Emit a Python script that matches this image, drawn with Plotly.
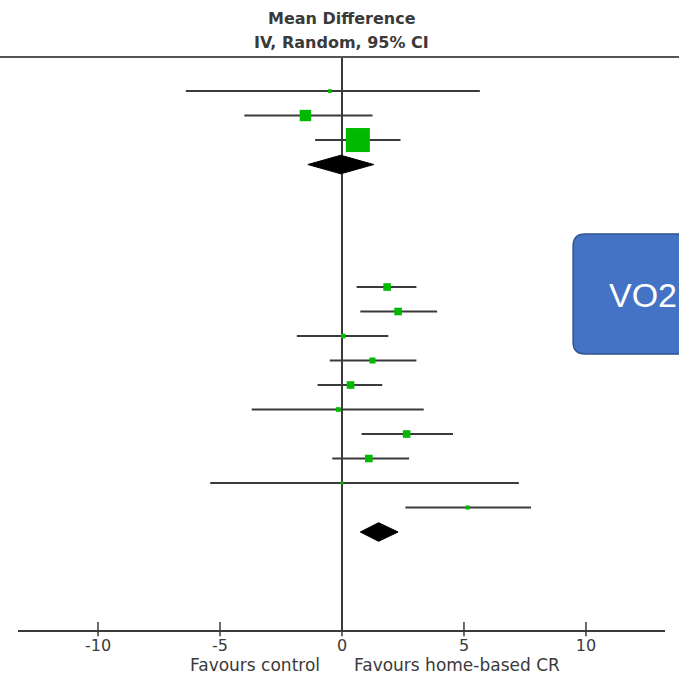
import plotly.graph_objects as go

# ---- data ----
# group 1 studies
g1_est = [-0.5, -1.5, 0.65]
g1_lo = [-6.4, -4.0, -1.1]
g1_hi = [5.65, 1.25, 2.4]
g1_w = [1.0, 9.0, 40.0]
g1_rows = [0, 1, 2]
g1_pool = (-0.05, -1.4, 1.3)   # est, lo, hi
g1_pool_row = 3

# group 2 studies
g2_est = [1.85, 2.3, 0.05, 1.25, 0.35, -0.15, 2.65, 1.1, 0.0, 5.15]
g2_lo = [0.6, 0.75, -1.85, -0.5, -1.0, -3.7, 0.8, -0.4, -5.4, 2.6]
g2_hi = [3.05, 3.9, 1.9, 3.05, 1.65, 3.35, 4.55, 2.75, 7.25, 7.75]
g2_w = [4.0, 4.0, 1.5, 2.5, 4.0, 1.5, 4.0, 4.0, 0.3, 1.2]
g2_rows = [8, 9, 10, 11, 12, 13, 14, 15, 16, 17]
g2_pool = (1.5, 0.75, 2.3)
g2_pool_row = 18

tick_vals = [-10, -5, 0, 5, 10]
tick_text = ["-10", "-5", "0", "5", "10"]
title_lines = ["Mean Difference", "IV, Random, 95% CI"]
left_label = "Favours control"
right_label = "Favours home-based CR"
box_text = "VO2"

LINE = "#3a3a3a"
GREEN = "#00b900"
FONT = "DejaVu Sans, Liberation Sans, sans-serif"
BOXFONT = "Liberation Sans, Arial, sans-serif"
TXT = "#3a3a3a"

fig = go.Figure()


def add_studies(est, lo, hi, w, rows):
    for e, l, h, r in zip(est, lo, hi, rows):
        fig.add_trace(go.Scatter(x=[l, h], y=[r, r], mode="lines",
                                 line=dict(color=LINE, width=2),
                                 showlegend=False, hoverinfo="skip"))
    sizes = [max(3, 3.8 * (wi ** 0.5)) for wi in w]
    fig.add_trace(go.Scatter(x=est, y=rows, mode="markers",
                             marker=dict(symbol="square", size=sizes, color=GREEN,
                                         opacity=1, line=dict(width=0)),
                             showlegend=False, hoverinfo="skip"))


def add_diamond(pool, row, half=0.38):
    e, l, h = pool
    fig.add_trace(go.Scatter(x=[l, e, h, e, l], y=[row, row - half, row, row + half, row],
                             mode="lines", fill="toself", fillcolor="black",
                             line=dict(color="black", width=1),
                             showlegend=False, hoverinfo="skip"))


add_studies(g1_est, g1_lo, g1_hi, g1_w, g1_rows)
add_diamond(g1_pool, g1_pool_row)
add_studies(g2_est, g2_lo, g2_hi, g2_w, g2_rows)
add_diamond(g2_pool, g2_pool_row)

# tick marks crossing the axis
for v in tick_vals:
    fig.add_shape(type="line", xref="x", yref="paper", x0=v, x1=v, y0=-0.011, y1=0.014,
                  line=dict(color=LINE, width=1.5))

# top rule
fig.add_shape(type="line", xref="paper", yref="paper", x0=-0.03, x1=1.03, y0=1, y1=1,
              line=dict(color="#555555", width=2))

# blue rounded box
x0, x1, y0, y1 = 0.858, 1.12, 0.4817, 0.691
rx, ry = 0.0185, 0.021
path = (f"M {x0+rx},{y1} L {x1},{y1} L {x1},{y0} L {x0+rx},{y0} "
        f"Q {x0},{y0} {x0},{y0+ry} L {x0},{y1-ry} Q {x0},{y1} {x0+rx},{y1} Z")
fig.add_shape(type="path", xref="paper", yref="paper", path=path,
              fillcolor="#4472c4", line=dict(color="#2f528f", width=1.5), layer="above")
fig.add_annotation(xref="paper", yref="paper", x=0.910, y=0.585, xanchor="left",
                   yanchor="middle", text=box_text, showarrow=False,
                   font=dict(family=BOXFONT, size=34, color="white"))

# titles
fig.add_annotation(xref="x", yref="paper", x=0, y=1, yshift=39, yanchor="middle",
                   text=f"<b>{title_lines[0]}</b>",
                   showarrow=False, font=dict(family=FONT, size=16, color=TXT))
fig.add_annotation(xref="x", yref="paper", x=0, y=1, yshift=15, yanchor="middle",
                   text=f"<b>{title_lines[1]}</b>",
                   showarrow=False, font=dict(family=FONT, size=16, color=TXT))

# favours labels
fig.add_annotation(xref="x", yref="paper", x=-0.8, y=0, yshift=-35, xanchor="right",
                   yanchor="middle", text=left_label, showarrow=False,
                   font=dict(family=FONT, size=17, color=TXT))
fig.add_annotation(xref="x", yref="paper", x=0.43, y=0, yshift=-35, xanchor="left",
                   yanchor="middle", text=right_label, showarrow=False,
                   font=dict(family=FONT, size=17, color=TXT))

fig.update_layout(
    width=679, height=677,
    margin=dict(l=18, r=14, t=57, b=47),
    plot_bgcolor="white", paper_bgcolor="white",
    xaxis=dict(range=[-13.28, 13.24], tickvals=tick_vals, ticktext=tick_text,
               showgrid=False, zeroline=True, zerolinecolor=LINE, zerolinewidth=1.5,
               showline=True, linecolor=LINE, linewidth=2, ticks="",
               tickfont=dict(family=FONT, size=16, color=TXT), fixedrange=True),
    yaxis=dict(range=[22.0, -1.39], showgrid=False, zeroline=False, showticklabels=False,
               showline=False, fixedrange=True),
)

fig.write_html("out.html")
